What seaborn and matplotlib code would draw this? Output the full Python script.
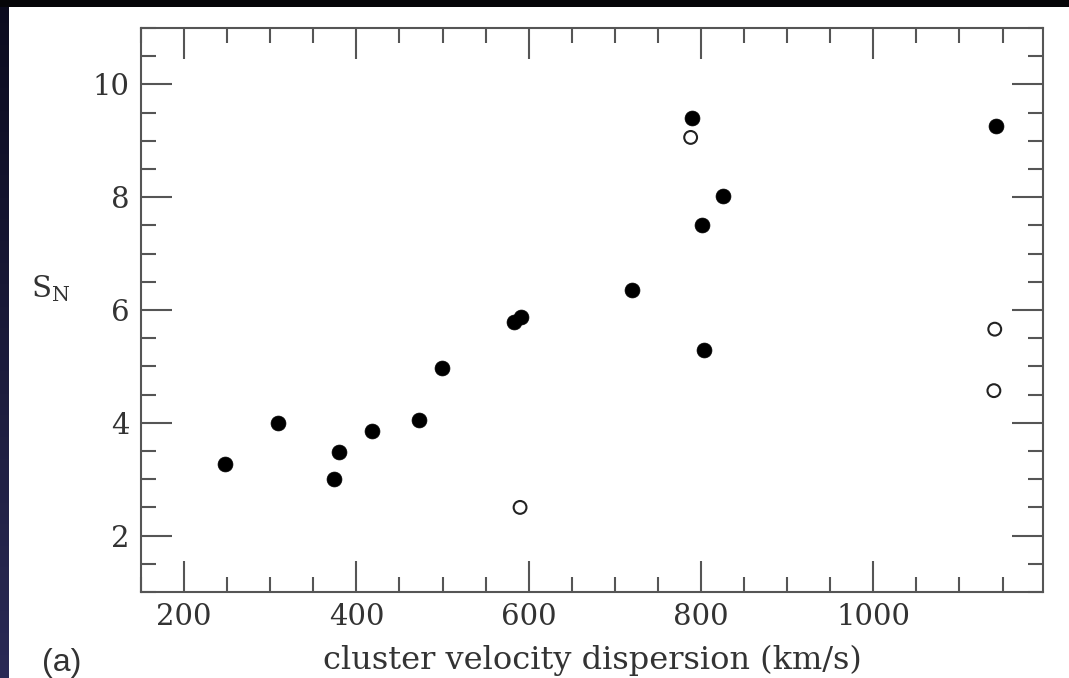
"""S_N versus cluster velocity dispersion, panel (a)"""

import numpy as np
import pandas as pd
import matplotlib
matplotlib.use("Agg")
import matplotlib.pyplot as plt
from matplotlib.ticker import MultipleLocator
import seaborn as sns

# data
sigma_filled = [247, 309, 374, 380, 418, 473, 499, 583, 591, 720, 789, 801, 803, 825, 1142]
sn_filled = [3.27, 4.00, 3.01, 3.49, 3.86, 4.05, 4.97, 5.79, 5.88, 6.35, 9.40, 7.50, 5.29, 8.03, 9.26]

sigma_open = [590, 788, 1141, 1140]
sn_open = [2.50, 9.06, 5.66, 4.57]

df = pd.concat([
    pd.DataFrame({"sigma": sigma_filled, "sn": sn_filled, "kind": "filled"}),
    pd.DataFrame({"sigma": sigma_open, "sn": sn_open, "kind": "open"}),
], ignore_index=True)

sns.set_style("ticks")
plt.rcParams["font.family"] = ["DejaVu Serif"]
plt.rcParams["mathtext.fontset"] = "dejavuserif"

fig = plt.figure(figsize=(10.69, 6.78), dpi=100, facecolor="white")

# slide-style frame: black strip on top, dark blue gradient on the left
bg_left = fig.add_axes([0, 0, 9 / 1069, 1])
grad = np.linspace(0, 1, 256).reshape(-1, 1)
cmap = matplotlib.colors.LinearSegmentedColormap.from_list("frame", ["#0b0b1e", "#2a2a55"])
bg_left.imshow(grad, aspect="auto", cmap=cmap, extent=[0, 1, 1, 0])
bg_left.set_axis_off()
bg_top = fig.add_axes([0, 1 - 7 / 678, 1, 7 / 678])
bg_top.set_facecolor("#050508")
bg_top.set_xticks([])
bg_top.set_yticks([])
for s in bg_top.spines.values():
    s.set_visible(False)

ax = fig.add_axes([141 / 1069, 86 / 678, 902 / 1069, 564 / 678])

sns.scatterplot(data=df[df.kind == "filled"], x="sigma", y="sn", ax=ax,
                color="black", s=115, edgecolor="black", linewidth=0.5, legend=False)
sns.scatterplot(data=df[df.kind == "open"], x="sigma", y="sn", ax=ax,
                facecolor="none", s=85, edgecolor="#222222", linewidth=1.5, legend=False)

ax.set_xlim(150, 1197)
ax.set_ylim(1, 11)
ax.xaxis.set_major_locator(MultipleLocator(200))
ax.xaxis.set_minor_locator(MultipleLocator(50))
ax.yaxis.set_major_locator(MultipleLocator(2))
ax.yaxis.set_minor_locator(MultipleLocator(0.5))

edge = "#555555"
for s in ax.spines.values():
    s.set_visible(True)
    s.set_color(edge)
    s.set_linewidth(1.5)

ax.tick_params(which="both", direction="in", top=True, right=True, color=edge, width=1.5)
ax.tick_params(which="major", length=22, labelsize=21, labelcolor="#333333")
ax.tick_params(which="minor", length=11)
ax.tick_params(axis="x", which="major", pad=8)
ax.tick_params(axis="y", which="major", pad=8)

ax.set_xlabel("cluster velocity dispersion (km/s)", fontsize=23, color="#333333", labelpad=10)
ax.set_ylabel(r"S$_\mathregular{N}$", fontsize=21, color="#333333", rotation=0)
ax.yaxis.set_label_coords(-0.10, 0.51)

fig.text(42 / 1069, 1 - 663 / 678, "(a)", fontsize=23, color="#333333",
         family=["Liberation Sans", "DejaVu Sans"], va="center", ha="left")

fig.savefig("out.png", dpi=100, facecolor="white")
